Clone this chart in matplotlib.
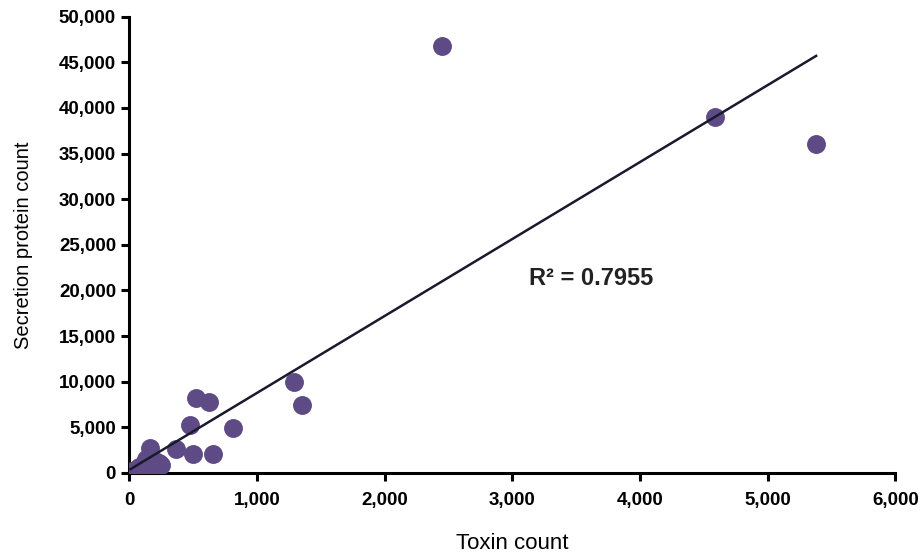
import matplotlib.pyplot as plt
import numpy as np
from matplotlib.ticker import FuncFormatter

plt.rcParams['font.family'] = ['Liberation Sans', 'DejaVu Sans']

toxin = np.array([2450, 4590, 5380, 1290, 1350, 815, 525, 625, 478, 500, 658, 368, 165,
                  20, 60, 100, 150, 200, 250, 120, 80, 180, 230, 50, 130, 10])
secretion = np.array([46800, 39000, 36000, 10000, 7450, 4950, 8250, 7800, 5250, 2100, 2100, 2600, 2700,
                      200, 400, 800, 1000, 1300, 900, 300, 600, 500, 1100, 100, 1500, 50])

fig = plt.figure(figsize=(9.23, 5.59), dpi=100)
ax = fig.add_axes([0.14, 0.154, 0.83, 0.816])

ax.scatter(toxin, secretion, s=185, color="#5e4a84", zorder=3, linewidths=0)

slope, intercept = np.polyfit(toxin, secretion, 1)
xs = np.array([toxin.min(), toxin.max()])
ax.plot(xs, slope * xs + intercept, color="#1a1a2e", lw=1.8, zorder=4)

ax.text(3620, 21300, "R² = 0.7955", fontsize=17, fontweight="bold",
        color="#222222", ha="center", va="center")

ax.set_xlim(0, 6000)
ax.set_ylim(0, 50000)
ax.set_xticks(np.arange(0, 6001, 1000))
ax.set_yticks(np.arange(0, 50001, 5000))
fmt = FuncFormatter(lambda v, p: f"{int(v):,}")
ax.xaxis.set_major_formatter(fmt)
ax.yaxis.set_major_formatter(fmt)

for s in ["top", "right"]:
    ax.spines[s].set_visible(False)
for s in ["left", "bottom"]:
    ax.spines[s].set_linewidth(2.2)
ax.tick_params(width=2.2, length=6, labelsize=13.5, direction="out")
ax.tick_params(axis="x", pad=8)
for lab in ax.get_xticklabels() + ax.get_yticklabels():
    lab.set_fontweight("bold")

ax.set_xlabel("Toxin count", fontsize=16, labelpad=17)
ax.set_ylabel("Secretion protein count", fontsize=14.5, labelpad=19)

fig.savefig("out.png", dpi=100)
